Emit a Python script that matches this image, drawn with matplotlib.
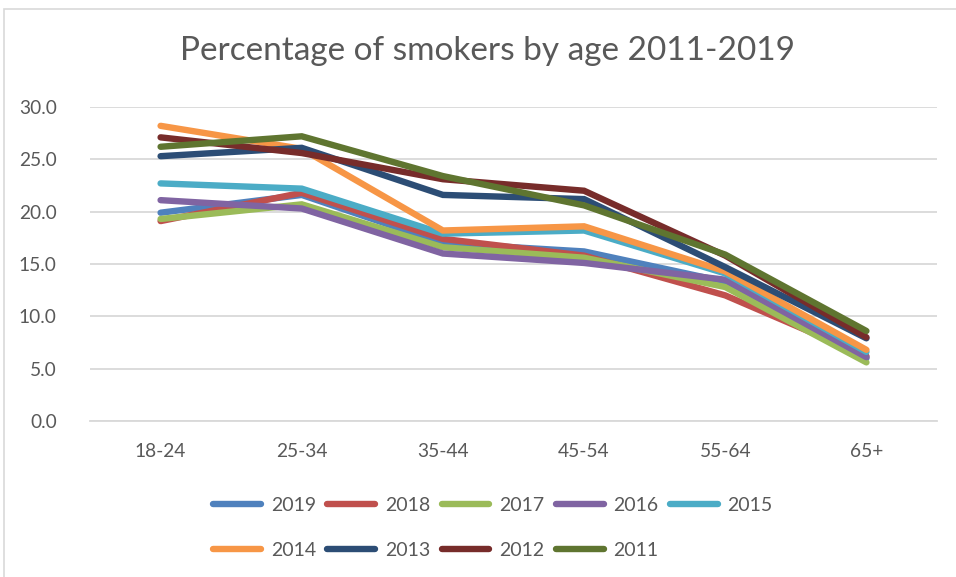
import matplotlib
matplotlib.use("Agg")
import matplotlib.pyplot as plt
from matplotlib.patches import Rectangle

categories = ["18-24", "25-34", "35-44", "45-54", "55-64", "65+"]
years = ["2019", "2018", "2017", "2016", "2015", "2014", "2013", "2012", "2011"]
v2019 = [19.9, 21.6, 17.0, 16.2, 13.3, 6.0]
v2018 = [19.1, 21.8, 17.4, 15.8, 12.0, 6.2]
v2017 = [19.3, 20.7, 16.6, 15.6, 12.8, 5.6]
v2016 = [21.1, 20.3, 16.0, 15.1, 13.5, 6.1]
v2015 = [22.7, 22.2, 17.9, 18.2, 14.1, 6.6]
v2014 = [28.2, 26.0, 18.2, 18.6, 14.3, 6.8]
v2013 = [25.3, 26.1, 21.6, 21.2, 14.7, 7.9]
v2012 = [27.1, 25.6, 23.1, 22.0, 15.8, 8.0]
v2011 = [26.2, 27.2, 23.4, 20.6, 15.9, 8.6]
series = [v2019, v2018, v2017, v2016, v2015, v2014, v2013, v2012, v2011]
colors = ["#4F81BD", "#C0504D", "#9BBB59", "#8064A2", "#4BACC6",
          "#F79646", "#2C4D75", "#772C2A", "#5F7530"]
yticks = [0, 5, 10, 15, 20, 25, 30]

plt.rcParams['font.family'] = ['Lato', 'DejaVu Sans']
W, H = 956, 577
fig = plt.figure(figsize=(W / 100, H / 100), dpi=100)
ax = fig.add_axes([90 / W, 1 - 421 / H, (937 - 90) / W, (421 - 107) / H])

x = list(range(len(categories)))
handles = []
for i, (vals, c, lab) in enumerate(zip(series, colors, years)):
    h, = ax.plot(x, vals, color=c, lw=4.6, solid_capstyle='round',
                 solid_joinstyle='miter', label=lab, zorder=3 + i)
    handles.append(h)

ax.set_xlim(-0.5, len(categories) - 0.5)
ax.set_ylim(0, 30)
ax.set_yticks(yticks)
ax.set_yticklabels([f"{t:.1f}" for t in yticks])
ax.set_xticks(x)
ax.set_xticklabels(categories)
ax.grid(axis='y', color='#D9D9D9', lw=1.3)
ax.set_axisbelow(True)
for s in ax.spines.values():
    s.set_visible(False)
ax.spines['bottom'].set_visible(True)
ax.spines['bottom'].set_color('#D9D9D9')
ax.spines['bottom'].set_linewidth(1.3)
ax.tick_params(axis='both', length=0, labelsize=13.8, colors='#595959')
ax.tick_params(axis='y', pad=24)
ax.tick_params(axis='x', pad=16)

fig.text(487 / W, 1 - 51 / H, "Percentage of smokers by age 2011-2019",
         ha='center', va='center', fontsize=24, color='#595959')

order = [0, 5, 1, 6, 2, 7, 3, 8, 4]
leg = fig.legend([handles[k] for k in order], [years[k] for k in order],
                 ncol=5, loc='center', bbox_to_anchor=(493 / W, 1 - 528 / H),
                 frameon=False, fontsize=14, handlelength=2.45,
                 handletextpad=0.5, columnspacing=0.6, labelspacing=1.45)
for t in leg.get_texts():
    t.set_color('#595959')
for lh in leg.legend_handles:
    lh.set_linewidth(4.6)

fig.patches.append(Rectangle((4 / W, -0.01), 1.0, 1 - 9 / H + 0.01,
                             transform=fig.transFigure, fill=False,
                             edgecolor='#D9D9D9', lw=1.2))

fig.savefig("out.png", dpi=100, facecolor='white')
